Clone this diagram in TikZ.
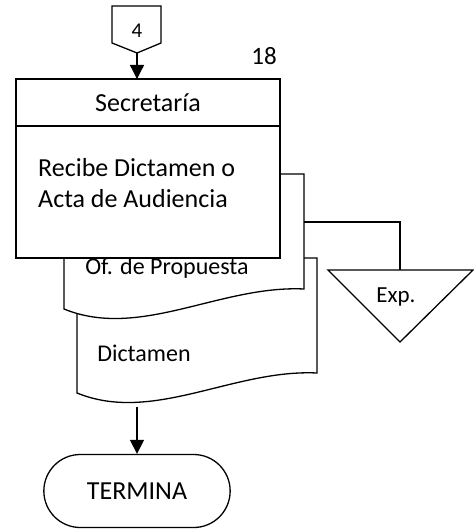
\documentclass[tikz,border=0pt]{standalone}
\usepackage{fontspec}
\setmainfont{Carlito}
\usepackage{tikz}
\usetikzlibrary{arrows.meta,shapes.misc}

\tikzset{
    flow/.style={line width=1.3pt},
    flowarrow/.style={line width=1.3pt, -{Triangle[width=14pt,length=14pt]}},
    docpage/.pic={
        \draw[flow, fill=white] (0,0) -- (240,0) -- (240,115)
            .. controls (156,111) and (76,166) .. (0,135) -- cycle;
    }
}

\begin{document}
\begin{tikzpicture}[x=1pt, y=-1pt]
        \useasboundingbox (0,0) rectangle (473,529);

        % documentos detras de la caja
        \pic at (77,258) {docpage};
        \pic at (64,174) {docpage};
        \node[font=\fontsize{24}{28}\selectfont] (dictamen) at (144,353) {Dictamen};
        \node[font=\fontsize{24}{28}\selectfont] (propuesta) at (167,268) {Of. de Propuesta};

        % conector de pagina
        \draw[flow, fill=white] (112,6) -- (161,6) -- (161,43) -- (137,53) -- (112,43) -- cycle;
        \node[font=\fontsize{21}{25}\selectfont] (conn) at (137,31) {4};
        \coordinate (offtip) at (137,53);
        \node[font=\fontsize{25}{29}\selectfont] (num) at (264,56) {18};

        % actividad
        \node[draw, flow, fill=white, outer sep=0pt, minimum width=264pt, minimum height=47pt,
            anchor=north west, font=\fontsize{26}{30}\selectfont]
            (head) at (16,79) {Secretaría};
        \node[draw, flow, fill=white, outer sep=0pt, minimum width=264pt, minimum height=132pt,
            anchor=north west]
            (body) at (head.south west) {};
        \node[anchor=west, align=left, inner sep=0pt, font=\fontsize{26}{31}\selectfont]
            (task) at (38,183) {Recibe Dictamen o\\Acta de Audiencia};

        \draw[flowarrow] (offtip) -- (offtip |- head.north);

        % archivo
        \draw[flow] (328,270) -- (473,270) -- (400,342) -- cycle;
        \node[font=\fontsize{23}{27}\selectfont] (exp) at (396,297) {Exp.};
        \coordinate (docout) at (304,222);
        \coordinate (exptop) at (400,270);
        \draw[flow] (docout) -| (exptop);

        % fin
        \node[draw, flow, rounded rectangle, minimum width=193pt, minimum height=73pt,
            font=\fontsize{26}{30}\selectfont]
            (fin) at (137,491) {TERMINA};
        \coordinate (docend) at (137,407);
        \draw[flowarrow] (docend) -- (fin.north);
    \end{tikzpicture}
\end{document}
